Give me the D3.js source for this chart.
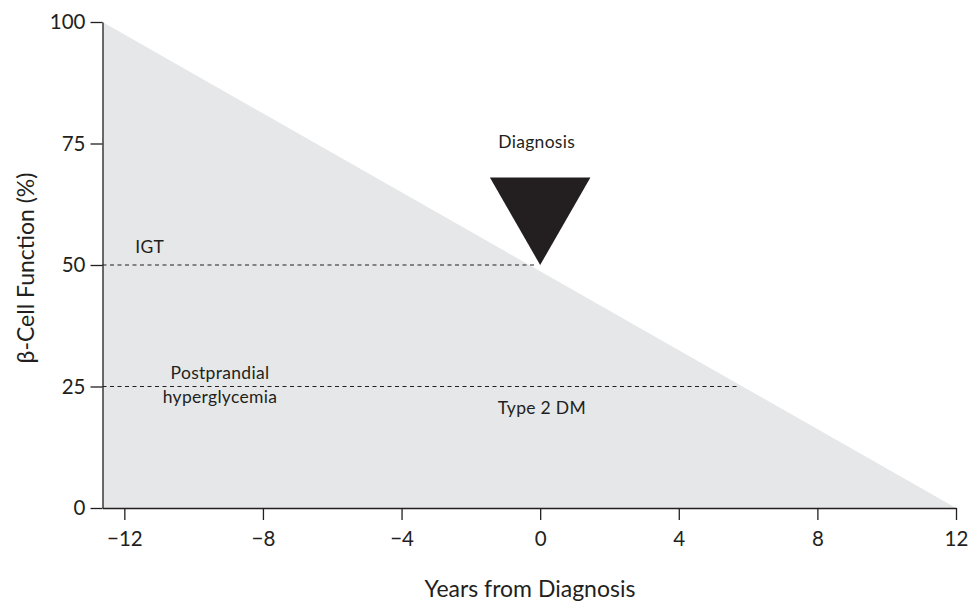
<!DOCTYPE html>
<html>
<head>
<meta charset="utf-8">
<script src="https://cdn.jsdelivr.net/npm/d3@7"></script>
<style>
  html, body { margin: 0; padding: 0; background: #fff; }
  svg { display: block; }
  text { font-family: "Lato", "DejaVu Sans", sans-serif; fill: #231f20; }
</style>
</head>
<body>
<svg id="chart" width="968" height="602"></svg>
<script>
// ---- data ----
const xTicks = [-12, -8, -4, 0, 4, 8, 12];
const yTicks = [0, 25, 50, 75, 100];
const declineYears = [-12.63, 12];
const declineValues = [100, 0];
const thresholdNames = ["IGT", "Postprandial hyperglycemia"];
const thresholdValues = [50, 25];
const thresholdEnds = [-0.1, 5.75];
const diagnosisYear = 0;
const diagnosisValue = 50;
const diagnosisTop = 68;
const diagnosisHalfWidth = 1.45;
const annotations = [
  { lines: ["Diagnosis"], year: -0.1, value: 74.1 },
  { lines: ["IGT"], year: -11.27, value: 52.5 },
  { lines: ["Postprandial", "hyperglycemia"], year: -9.24, value: 26.5 },
  { lines: ["Type 2 DM"], year: 0.05, value: 19.4 }
];

// ---- layout ----
const svg = d3.select("#chart");
const mLeft = 102.5, mRight = 956, mTop = 22, mBottom = 508;

const x = d3.scaleLinear().domain([-12.63, 12]).range([mLeft, mRight]);
const y = d3.scaleLinear().domain([0, 100]).range([mBottom, mTop]);

// area
const area = d3.area().x(d => x(d[0])).y0(y(0)).y1(d => y(d[1]));
svg.append("path")
  .datum(declineYears.map((d, i) => [d, declineValues[i]]))
  .attr("d", area)
  .attr("fill", "#e6e7e8");

// threshold dashed lines
thresholdValues.forEach((v, i) => {
  svg.append("line")
    .attr("x1", x(-12.63)).attr("x2", x(thresholdEnds[i]))
    .attr("y1", y(v)).attr("y2", y(v))
    .attr("stroke", "#231f20").attr("stroke-width", 1)
    .attr("stroke-dasharray", "4,3.5");
});

// diagnosis triangle
const tri = [
  [diagnosisYear - diagnosisHalfWidth, diagnosisTop],
  [diagnosisYear + diagnosisHalfWidth, diagnosisTop],
  [diagnosisYear, diagnosisValue]
];
svg.append("path")
  .attr("d", d3.line().x(d => x(d[0])).y(d => y(d[1]))(tri) + "Z")
  .attr("fill", "#231f20");

// axes
const xAxis = d3.axisBottom(x).tickValues(xTicks).tickSize(12).tickSizeOuter(0)
  .tickFormat(d => d < 0 ? "\u2212" + Math.abs(d) : String(d));
const gx = svg.append("g").attr("transform", `translate(0,${mBottom})`).call(xAxis);
gx.select(".domain").attr("stroke", "#231f20").attr("stroke-width", 1.3);
gx.selectAll(".tick line").attr("stroke", "#231f20").attr("stroke-width", 1.3);
gx.selectAll(".tick text").attr("font-size", 20.5).attr("dy", "1.12em")
  .style("font-family", "Lato, sans-serif").attr("fill", "#231f20");

const yAxis = d3.axisLeft(y).tickValues(yTicks).tickSize(12).tickSizeOuter(0);
const gy = svg.append("g").attr("transform", `translate(${mLeft},0)`).call(yAxis);
gy.select(".domain").attr("stroke", "#231f20").attr("stroke-width", 1.3);
gy.selectAll(".tick line").attr("stroke", "#231f20").attr("stroke-width", 1.3);
gy.selectAll(".tick text").attr("font-size", 20.5).attr("x", -17)
  .style("font-family", "Lato, sans-serif").attr("fill", "#231f20");

// axis titles
svg.append("text")
  .attr("x", 530).attr("y", 597)
  .attr("text-anchor", "middle").attr("font-size", 23)
  .text("Years from Diagnosis");
svg.append("text")
  .attr("transform", "translate(34,268) rotate(-90)")
  .attr("text-anchor", "middle").attr("font-size", 23)
  .text("\u03B2-Cell Function (%)");

// annotations
annotations.forEach(a => {
  const t = svg.append("text")
    .attr("x", x(a.year)).attr("y", y(a.value))
    .attr("text-anchor", "middle").attr("font-size", 17.5)
    .attr("letter-spacing", 0.3);
  a.lines.forEach((l, i) => {
    t.append("tspan").attr("x", x(a.year)).attr("dy", i === 0 ? 0 : 24).text(l);
  });
});
</script>
</body>
</html>
